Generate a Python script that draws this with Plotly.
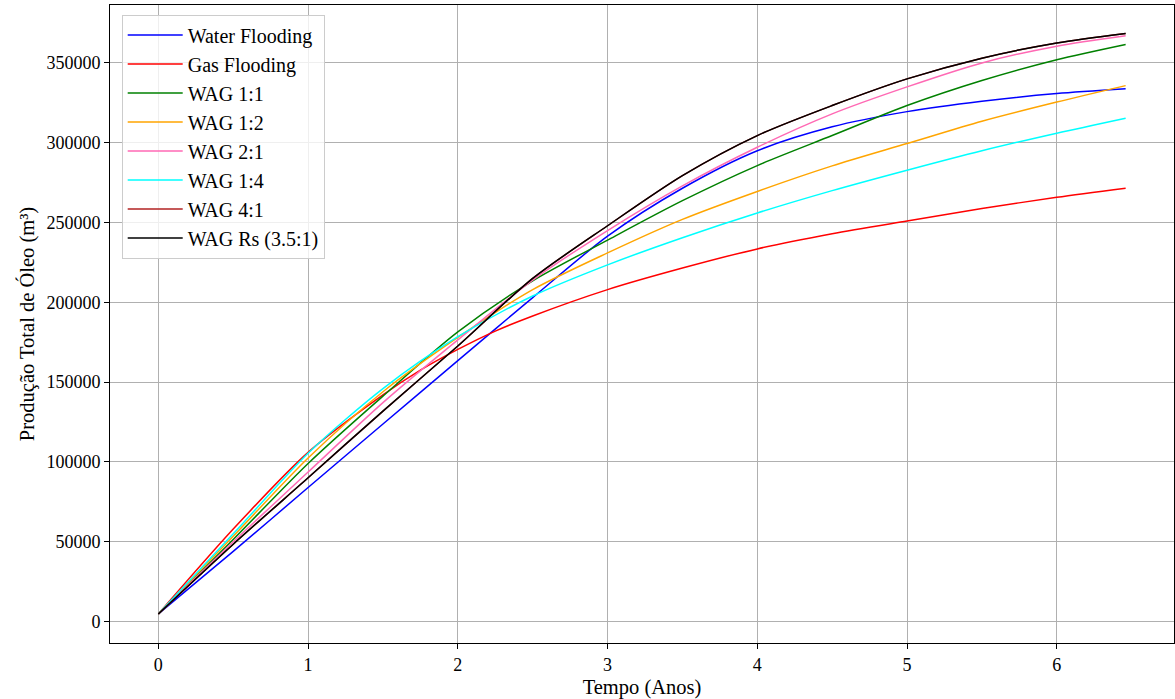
import plotly.graph_objects as go

# Time (years)
t = [0, 0.5, 1, 1.5, 2, 2.5, 3, 3.5, 4, 4.5, 5, 5.5, 6, 6.46]
t_gas = [0, 0.5, 1, 1.5, 1.75, 2, 2.25, 2.5, 3, 3.5, 4, 4.5, 5, 5.5, 6, 6.46]

water = [4800, 44000, 84000, 123800, 163500, 203000, 241500, 271500, 295000, 310000, 319500, 326000, 330800, 333800]
gas = [4800, 58000, 106000, 142000, 157500, 170500, 182000, 191500, 208000, 221500, 233500, 243000, 251000, 258800, 265800, 271500]
wag_1_1 = [4800, 51500, 99100, 141300, 181500, 213500, 239000, 263700, 285700, 304500, 323300, 339000, 352000, 361600]
wag_1_2 = [4800, 53500, 102500, 144000, 178000, 208000, 231000, 252000, 269500, 285500, 299500, 313500, 325500, 335800]
wag_2_1 = [4800, 50000, 93700, 137200, 176500, 214000, 245000, 273000, 297200, 318100, 335000, 350000, 360500, 367000]
wag_1_4 = [4800, 55000, 105500, 146000, 178500, 204000, 223500, 240500, 256000, 270000, 282800, 295000, 306000, 315400]
wag_4_1 = [4800, 48500, 90100, 131900, 172700, 215000, 248000, 279400, 304500, 323300, 340000, 353000, 362500, 368500]
wag_rs = [4800, 48500, 90100, 131900, 172700, 215000, 248000, 279400, 304500, 323300, 340000, 353000, 362500, 368500]

series = [
    ("Water Flooding", t, water, "blue"),
    ("Gas Flooding", t_gas, gas, "red"),
    ("WAG 1:1", t, wag_1_1, "green"),
    ("WAG 1:2", t, wag_1_2, "orange"),
    ("WAG 2:1", t, wag_2_1, "hotpink"),
    ("WAG 1:4", t, wag_1_4, "cyan"),
    ("WAG 4:1", t, wag_4_1, "#b22222"),
    ("WAG Rs (3.5:1)", t, wag_rs, "black"),
]

FONT = "Liberation Serif, Times New Roman, serif"

fig = go.Figure()
for name, xs, ys, color in series:
    fig.add_trace(go.Scatter(
        x=xs, y=ys, name=name, mode="lines",
        line=dict(color=color, width=1.5, shape="spline", smoothing=0.8),
    ))

axis_common = dict(
    showgrid=True, gridcolor="#b0b0b0", gridwidth=1,
    showline=True, linecolor="black", linewidth=1, mirror=True,
    ticks="outside", ticklen=5, tickcolor="black",
    zeroline=False,
    tickfont=dict(family=FONT, size=18, color="black"),
)

fig.update_layout(
    width=1175, height=699,
    margin=dict(l=110, r=1, t=5, b=56),
    paper_bgcolor="white", plot_bgcolor="white",
    font=dict(family=FONT, size=18, color="black"),
    xaxis=dict(range=[-0.323, 6.783], dtick=1, tick0=0,
               title=dict(text="Tempo (Anos)", font=dict(family=FONT, size=20.5), standoff=6),
               **axis_common),
    yaxis=dict(range=[-13400, 386300], dtick=50000, tick0=0, tickformat="d",
               title=dict(text="Produção Total de Óleo (m³)", font=dict(family=FONT, size=20.5), standoff=6),
               **axis_common),
    legend=dict(
        x=0.011, y=0.985, xanchor="left", yanchor="top",
        bgcolor="rgba(255,255,255,0.8)", bordercolor="#cccccc", borderwidth=1,
        font=dict(family=FONT, size=20, color="black"),
        tracegroupgap=0, itemwidth=55,
    ),
    showlegend=True,
)

fig.write_html("out.html")
